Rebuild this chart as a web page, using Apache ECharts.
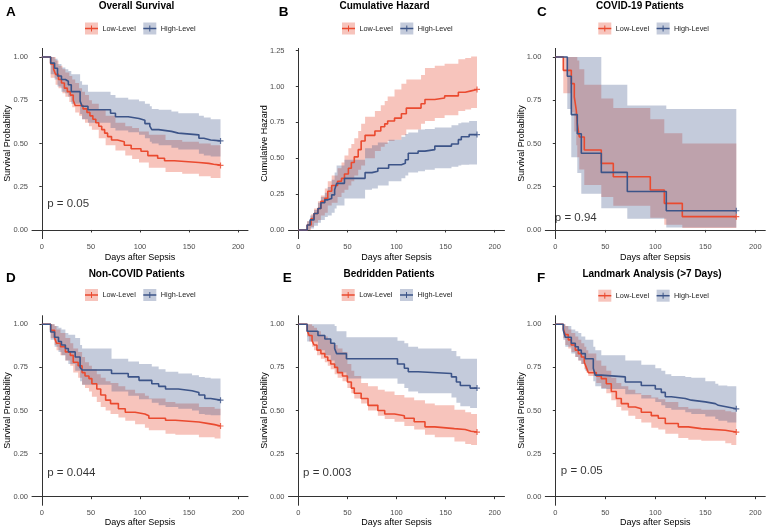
<!DOCTYPE html>
<html>
<head>
<meta charset="utf-8">
<script src="https://cdn.jsdelivr.net/npm/echarts@6/dist/echarts.min.js"></script>
<style>
html, body { margin: 0; background: #fff; }
#chart { width: 767px; height: 530px; }
</style>
</head>
<body>
<div id="chart"></div>
<script>
// step curves: [day, value]   bands: [day, lower, upper]
var redA = [[0,1],[9,0.96],[12,0.93],[14,0.90],[17,0.87],[20,0.85],[23,0.82],[26,0.80],[29,0.78],[32,0.75],[34,0.72],[42,0.70],[46,0.68],[49,0.66],[52,0.64],[55,0.62],[58,0.60],[61,0.58],[64,0.56],[67,0.54],[71,0.52],[77,0.51],[84,0.49],[91,0.47],[101,0.455],[108,0.43],[118,0.415],[125,0.40],[135,0.39],[160,0.385],[170,0.38],[175,0.375],[182,0.373]];
var blueA = [[0,1],[9,0.965],[13,0.935],[16,0.89],[20,0.87],[24,0.86],[27,0.84],[30,0.80],[39,0.745],[41,0.715],[47,0.695],[70,0.675],[75,0.655],[88,0.645],[99,0.635],[105,0.615],[110,0.60],[112,0.58],[119,0.57],[132,0.56],[139,0.55],[160,0.53],[165,0.52],[172,0.515],[182,0.515]];
var bandRedA = [[0,1,1],[9,0.88,1],[14,0.84,0.98],[17,0.82,0.95],[21,0.79,0.93],[24,0.77,0.91],[28,0.74,0.89],[31,0.71,0.87],[34,0.68,0.85],[38,0.66,0.82],[41,0.64,0.80],[44,0.62,0.78],[48,0.60,0.75],[51,0.58,0.73],[58,0.53,0.70],[65,0.49,0.66],[75,0.46,0.62],[85,0.43,0.60],[92,0.41,0.59],[99,0.39,0.57],[109,0.36,0.55],[126,0.335,0.52],[143,0.325,0.51],[160,0.31,0.50],[172,0.30,0.49],[182,0.30,0.49]];
var bandBlueA = [[0,1,1],[9,0.90,1],[13,0.87,0.99],[16,0.83,0.96],[20,0.80,0.94],[24,0.79,0.93],[27,0.77,0.92],[30,0.73,0.90],[39,0.67,0.86],[41,0.64,0.84],[47,0.62,0.80],[70,0.59,0.78],[75,0.575,0.765],[88,0.565,0.755],[99,0.55,0.745],[105,0.53,0.73],[110,0.51,0.715],[112,0.50,0.70],[119,0.49,0.695],[132,0.475,0.685],[139,0.465,0.675],[160,0.44,0.66],[165,0.43,0.65],[172,0.425,0.64],[182,0.425,0.64]];

var redB = [[0,0],[9,0.035],[13,0.08],[16,0.115],[20,0.15],[23,0.20],[27,0.22],[30,0.27],[34,0.31],[40,0.34],[44,0.36],[47,0.39],[51,0.43],[54,0.47],[57,0.51],[61,0.56],[64,0.62],[68,0.66],[78,0.69],[84,0.72],[88,0.74],[91,0.76],[98,0.78],[105,0.81],[110,0.85],[125,0.88],[129,0.91],[139,0.92],[149,0.935],[163,0.96],[170,0.97],[176,0.98],[182,0.98]];
var blueB = [[0,0],[9,0.035],[12,0.07],[16,0.115],[20,0.15],[23,0.19],[27,0.21],[30,0.22],[34,0.245],[37,0.28],[39,0.325],[47,0.36],[68,0.40],[75,0.41],[81,0.43],[92,0.455],[105,0.465],[109,0.49],[112,0.535],[122,0.55],[129,0.56],[139,0.585],[156,0.60],[163,0.63],[166,0.65],[174,0.665],[182,0.665]];
var bandRedB = [[0,0,0],[9,0,0.06],[13,0.02,0.11],[16,0.05,0.15],[20,0.07,0.20],[23,0.10,0.24],[27,0.12,0.29],[30,0.17,0.34],[34,0.19,0.38],[40,0.23,0.43],[44,0.26,0.47],[47,0.28,0.52],[51,0.31,0.57],[54,0.34,0.60],[57,0.38,0.64],[61,0.42,0.69],[64,0.45,0.74],[68,0.50,0.79],[78,0.55,0.83],[84,0.58,0.87],[88,0.60,0.90],[91,0.62,0.93],[98,0.63,0.98],[105,0.66,1.02],[110,0.70,1.05],[125,0.74,1.08],[129,0.76,1.13],[139,0.78,1.145],[149,0.80,1.16],[163,0.83,1.19],[170,0.84,1.20],[176,0.85,1.21],[182,0.85,1.21]];
var bandBlueB = [[0,0,0],[9,0,0.06],[12,0.01,0.10],[16,0.03,0.14],[20,0.05,0.19],[23,0.07,0.23],[27,0.09,0.26],[30,0.10,0.30],[34,0.12,0.35],[37,0.15,0.40],[39,0.17,0.45],[47,0.22,0.49],[68,0.28,0.57],[75,0.29,0.59],[81,0.31,0.61],[92,0.34,0.63],[105,0.36,0.65],[109,0.38,0.67],[112,0.40,0.68],[122,0.41,0.70],[129,0.42,0.705],[139,0.43,0.715],[156,0.44,0.73],[163,0.45,0.745],[166,0.455,0.75],[174,0.456,0.76],[182,0.456,0.76]];

var redC = [[0,1],[8,0.923],[16,0.846],[19,0.769],[21,0.692],[22,0.615],[24,0.538],[29,0.462],[46,0.385],[58,0.308],[95,0.231],[109,0.154],[127,0.077],[181,0.077]];
var blueC = [[0,1],[12,0.889],[16,0.667],[22,0.556],[26,0.444],[46,0.333],[72,0.222],[111,0.111],[181,0.111]];
var bandRedC = [[0,1,1],[8,0.79,1],[16,0.68,1],[19,0.57,1],[21,0.49,1],[22,0.42,0.98],[24,0.35,0.93],[29,0.26,0.84],[46,0.19,0.76],[58,0.14,0.705],[95,0.07,0.64],[109,0.03,0.56],[127,0.012,0.50],[181,0.012,0.50]];
var bandBlueC = [[0,1,1],[12,0.70,1],[16,0.42,1],[22,0.33,1],[26,0.21,1],[46,0.125,0.84],[72,0.065,0.72],[111,0.014,0.70],[181,0.014,0.70]];

var redD = [[0,1],[9,0.965],[13,0.92],[15,0.89],[19,0.87],[24,0.84],[29,0.82],[32,0.78],[37,0.76],[41,0.72],[44,0.70],[48,0.685],[51,0.655],[56,0.625],[60,0.59],[65,0.56],[70,0.54],[78,0.51],[85,0.49],[95,0.48],[105,0.47],[109,0.455],[126,0.443],[136,0.433],[160,0.424],[170,0.418],[176,0.41],[182,0.41]];
var blueD = [[0,1],[9,0.955],[13,0.925],[17,0.90],[20,0.88],[24,0.86],[27,0.84],[34,0.81],[39,0.75],[41,0.735],[71,0.715],[88,0.695],[99,0.675],[112,0.655],[119,0.64],[126,0.625],[139,0.615],[153,0.605],[160,0.59],[166,0.57],[172,0.56],[182,0.56]];
var bandRedD = [[0,1,1],[9,0.92,1],[13,0.88,0.99],[15,0.85,0.97],[19,0.82,0.95],[24,0.79,0.92],[29,0.76,0.89],[32,0.72,0.86],[37,0.69,0.84],[41,0.65,0.81],[44,0.63,0.78],[48,0.61,0.76],[51,0.58,0.74],[56,0.55,0.71],[60,0.52,0.69],[65,0.50,0.67],[70,0.48,0.66],[78,0.46,0.64],[85,0.44,0.62],[95,0.42,0.60],[105,0.40,0.585],[109,0.385,0.57],[126,0.365,0.55],[136,0.36,0.54],[160,0.345,0.52],[176,0.337,0.51],[182,0.337,0.51]];
var bandBlueD = [[0,1,1],[9,0.91,1],[13,0.87,0.99],[17,0.84,0.98],[20,0.82,0.97],[24,0.79,0.95],[27,0.77,0.94],[34,0.73,0.92],[39,0.67,0.88],[41,0.65,0.86],[71,0.61,0.80],[88,0.585,0.785],[99,0.565,0.77],[112,0.545,0.755],[119,0.53,0.74],[126,0.52,0.725],[139,0.51,0.715],[153,0.50,0.705],[160,0.48,0.695],[166,0.475,0.69],[172,0.472,0.685],[182,0.472,0.685]];

var redE = [[0,1],[9,0.965],[11,0.935],[14,0.905],[16,0.88],[19,0.85],[23,0.83],[27,0.81],[30,0.79],[33,0.77],[37,0.75],[40,0.72],[45,0.70],[50,0.665],[54,0.63],[57,0.60],[64,0.57],[71,0.53],[81,0.50],[88,0.48],[98,0.47],[108,0.455],[118,0.435],[129,0.405],[139,0.395],[159,0.39],[170,0.38],[176,0.375],[182,0.375]];
var blueE = [[0,1],[9,0.96],[20,0.935],[27,0.915],[33,0.89],[37,0.86],[39,0.83],[49,0.80],[101,0.77],[108,0.745],[112,0.725],[122,0.715],[156,0.695],[161,0.665],[165,0.645],[175,0.63],[182,0.63]];
var bandRedE = [[0,1,1],[9,0.93,1],[11,0.90,1],[14,0.87,0.99],[16,0.85,0.98],[19,0.82,0.96],[23,0.80,0.94],[27,0.78,0.93],[30,0.76,0.91],[33,0.74,0.89],[37,0.71,0.88],[40,0.69,0.86],[45,0.67,0.84],[50,0.63,0.77],[54,0.60,0.73],[57,0.57,0.70],[64,0.54,0.66],[71,0.50,0.64],[81,0.47,0.62],[88,0.45,0.61],[98,0.435,0.59],[108,0.41,0.575],[118,0.39,0.56],[129,0.36,0.54],[139,0.345,0.53],[159,0.32,0.505],[170,0.305,0.49],[176,0.30,0.48],[182,0.30,0.48]];
var bandBlueE = [[0,1,1],[9,0.90,1],[20,0.85,1],[27,0.82,1],[33,0.79,1],[37,0.75,0.99],[39,0.72,0.96],[49,0.685,0.925],[101,0.655,0.905],[108,0.63,0.89],[112,0.61,0.87],[122,0.60,0.86],[156,0.575,0.845],[161,0.545,0.815],[165,0.525,0.80],[175,0.515,0.80],[182,0.515,0.80]];

var redF = [[0,1],[8,0.975],[10,0.94],[13,0.91],[16,0.88],[20,0.85],[23,0.83],[26,0.81],[29,0.78],[31,0.75],[33,0.72],[41,0.70],[46,0.685],[51,0.655],[56,0.61],[61,0.57],[66,0.54],[73,0.52],[80,0.51],[86,0.49],[96,0.47],[103,0.455],[110,0.425],[123,0.405],[133,0.395],[146,0.385],[170,0.38],[176,0.375],[181,0.375]];
var blueF = [[0,1],[8,0.965],[10,0.925],[16,0.89],[20,0.87],[23,0.85],[26,0.83],[30,0.80],[38,0.745],[40,0.705],[46,0.695],[70,0.665],[86,0.645],[100,0.625],[106,0.605],[110,0.58],[116,0.57],[130,0.56],[136,0.55],[150,0.54],[160,0.53],[163,0.52],[172,0.51],[181,0.51]];
var bandRedF = [[0,1,1],[8,0.92,1],[10,0.88,0.99],[13,0.86,0.97],[16,0.84,0.95],[20,0.81,0.93],[23,0.79,0.91],[26,0.77,0.89],[29,0.74,0.87],[31,0.72,0.85],[33,0.70,0.83],[41,0.66,0.79],[46,0.63,0.76],[51,0.60,0.73],[56,0.56,0.69],[61,0.52,0.66],[66,0.50,0.64],[73,0.47,0.62],[80,0.45,0.60],[86,0.43,0.59],[96,0.40,0.575],[103,0.39,0.565],[110,0.365,0.55],[123,0.34,0.52],[133,0.33,0.51],[146,0.325,0.505],[170,0.31,0.495],[176,0.30,0.49],[181,0.30,0.49]];
var bandBlueF = [[0,1,1],[8,0.91,1],[10,0.87,0.99],[16,0.83,0.97],[20,0.81,0.96],[23,0.79,0.95],[26,0.77,0.93],[30,0.73,0.91],[38,0.67,0.87],[40,0.64,0.85],[46,0.625,0.82],[70,0.595,0.79],[86,0.57,0.765],[100,0.55,0.745],[106,0.53,0.73],[110,0.515,0.71],[116,0.505,0.70],[130,0.49,0.695],[136,0.48,0.69],[150,0.465,0.67],[160,0.45,0.655],[163,0.44,0.645],[172,0.43,0.64],[181,0.425,0.636]];

var xTicks = [0, 50, 100, 150, 200];
var survTicks = [0, 0.25, 0.5, 0.75, 1];
var hazTicks = [0, 0.25, 0.5, 0.75, 1, 1.25];
var groups = ['Low-Level', 'High-Level'];

var RED = '#EA4A2F', BLUE = '#3C5488';
var RED_FILL = 'rgba(230,75,53,0.33)', BLUE_FILL = 'rgba(60,84,136,0.3)';
var FONT = '"Liberation Sans", Arial, sans-serif';

var panels = [
  {letter:'A', title:'Overall Survival', yName:'Survival Probability', red:redA, blue:blueA, rb:bandRedA, bb:bandBlueA, p:'p = 0.05', pAt:[5,0.15], yt:survTicks, ymin:-0.05, ymax:1.05,
   box:[32,48.4,216,190.2], tx:136.5, ty:6.5, lx:6, ly:12, gx:85, gy:28.5, nameGap:14},
  {letter:'B', title:'Cumulative Hazard', yName:'Cumulative Hazard', red:redB, blue:blueB, rb:bandRedB, bb:bandBlueB, p:null, yt:hazTicks, ymin:-0.0603, ymax:1.2663,
   box:[288.5,48.4,216,190.2], tx:384.5, ty:6.5, lx:278.7, ly:12, gx:342, gy:28.5, nameGap:14},
  {letter:'C', title:'COVID-19 Patients', yName:'Survival Probability', red:redC, blue:blueC, rb:bandRedC, bb:bandBlueC, p:'p = 0.94', pAt:[-1,0.068], yt:survTicks, ymin:-0.05, ymax:1.05,
   box:[545.3,48.4,220,190.2], tx:640, ty:6.5, lx:537, ly:12, gx:598.3, gy:28.5, nameGap:14},
  {letter:'D', title:'Non-COVID Patients', yName:'Survival Probability', red:redD, blue:blueD, rb:bandRedD, bb:bandBlueD, p:'p = 0.044', pAt:[5,0.14], yt:survTicks, ymin:-0.05, ymax:1.05,
   box:[32,315.7,216,189.6], tx:136.7, ty:274, lx:6, ly:278.5, gx:85, gy:295, nameGap:13},
  {letter:'E', title:'Bedridden Patients', yName:'Survival Probability', red:redE, blue:blueE, rb:bandRedE, bb:bandBlueE, p:'p = 0.003', pAt:[4.3,0.14], yt:survTicks, ymin:-0.05, ymax:1.05,
   box:[288.5,315.7,216,189.6], tx:389, ty:274, lx:282.7, ly:278.5, gx:341.7, gy:295, nameGap:13},
  {letter:'F', title:'Landmark Analysis (>7 Days)', yName:'Survival Probability', red:redF, blue:blueF, rb:bandRedF, bb:bandBlueF, p:'p = 0.05', pAt:[5,0.149], yt:survTicks, ymin:-0.05, ymax:1.05,
   box:[545.3,315.7,220,189.6], tx:652, ty:274, lx:537, ly:278.5, gx:598.3, gy:295.7, nameGap:13}
];

function bandSeries(i, band, color) {
  return {
    type: 'custom', xAxisIndex: i, yAxisIndex: i, silent: true, z: 1,
    data: band,
    encode: { x: 0, y: [1, 2] },
    renderItem: function (params, api) {
      if (params.dataIndex !== 0) return null;
      var up = [], lo = [];
      for (var k = 0; k < band.length; k++) {
        var t = band[k][0];
        var tn = k + 1 < band.length ? band[k + 1][0] : t;
        up.push(api.coord([t, band[k][2]]), api.coord([tn, band[k][2]]));
        lo.push(api.coord([t, band[k][1]]), api.coord([tn, band[k][1]]));
      }
      return { type: 'polygon', shape: { points: up.concat(lo.reverse()) }, style: { fill: color } };
    }
  };
}

var plusPath = 'path://M4,0H6V4H10V6H6V10H4V6H0V4H4Z';

function curveSeries(i, curve, color, name) {
  return [{
    type: 'line', name: name, xAxisIndex: i, yAxisIndex: i, step: 'end', z: 3,
    data: curve, showSymbol: false, silent: true,
    lineStyle: { color: color, width: 1.6 }
  }, {
    type: 'scatter', xAxisIndex: i, yAxisIndex: i, z: 4, silent: true,
    data: [curve[curve.length - 1]], symbol: plusPath, symbolSize: 6,
    itemStyle: { color: color }
  }];
}

var grids = [], xAxes = [], yAxes = [], series = [], graphics = [];

panels.forEach(function (p, i) {
  grids.push({ left: p.box[0], top: p.box[1], width: p.box[2], height: p.box[3], containLabel: false, outerBoundsMode: 'none' });
  xAxes.push({
    type: 'value', gridIndex: i, min: -10, max: 210,
    name: 'Days after Sepsis', nameLocation: 'middle', nameGap: p.nameGap, nameMoveOverlap: false,
    nameTextStyle: { fontFamily: FONT, fontSize: 9, color: '#000' },
    axisLine: { lineStyle: { color: '#333', width: 1 } },
    axisTick: { customValues: xTicks, length: 2.5, lineStyle: { color: '#333' } },
    axisLabel: { customValues: xTicks, margin: 4, fontFamily: FONT, fontSize: 7.5, color: '#4D4D4D' },
    splitLine: { show: false }
  });
  yAxes.push({
    type: 'value', gridIndex: i, min: p.ymin, max: p.ymax,
    name: p.yName, nameLocation: 'middle', nameGap: 19.5, nameMoveOverlap: false,
    nameTextStyle: { fontFamily: FONT, fontSize: 9, color: '#000' },
    axisLine: { show: true, lineStyle: { color: '#333', width: 1 } },
    axisTick: { show: true, customValues: p.yt, length: 2.5, lineStyle: { color: '#333' } },
    axisLabel: { customValues: p.yt, margin: 4, fontFamily: FONT, fontSize: 7.5, color: '#4D4D4D',
      formatter: function (v) { return v.toFixed(2); } },
    splitLine: { show: false }
  });
  series.push(bandSeries(i, p.rb, RED_FILL));
  series.push(bandSeries(i, p.bb, BLUE_FILL));
  series = series.concat(curveSeries(i, p.red, RED, groups[0]));
  series = series.concat(curveSeries(i, p.blue, BLUE, groups[1]));
  if (p.p) {
    series.push({
      type: 'scatter', xAxisIndex: i, yAxisIndex: i, z: 5, silent: true,
      data: [p.pAt], symbolSize: 1, itemStyle: { color: 'rgba(0,0,0,0)' },
      label: { show: true, position: 'right', distance: 0, formatter: p.p,
        fontFamily: FONT, fontSize: 11.5, color: '#000' }
    });
  }

  graphics.push({ type: 'text', x: p.tx, y: p.ty, style: { text: p.title, fontFamily: FONT, fontSize: 10, fontWeight: 'bold', fill: '#000', align: 'center', verticalAlign: 'middle' } });
  graphics.push({ type: 'text', x: p.lx, y: p.ly, style: { text: p.letter, fontFamily: FONT, fontSize: 13.5, fontWeight: 'bold', fill: '#000', align: 'left', verticalAlign: 'middle' } });
  [[RED, RED_FILL, 0], [BLUE, BLUE_FILL, 1]].forEach(function (g) {
    var x0 = p.gx + g[2] * 58.3;
    graphics.push({ type: 'rect', shape: { x: x0, y: p.gy - 6, width: 13, height: 12 }, style: { fill: g[1] } });
    graphics.push({ type: 'line', shape: { x1: x0, y1: p.gy, x2: x0 + 13, y2: p.gy }, style: { stroke: g[0], lineWidth: 1.5 } });
    graphics.push({ type: 'line', shape: { x1: x0 + 6.5, y1: p.gy - 3, x2: x0 + 6.5, y2: p.gy + 3 }, style: { stroke: g[0], lineWidth: 1 } });
    graphics.push({ type: 'text', x: x0 + 17.5, y: p.gy, style: { text: groups[g[2]], fontFamily: FONT, fontSize: 7.3, fill: '#222', align: 'left', verticalAlign: 'middle' } });
  });
});

var chart = echarts.init(document.getElementById('chart'));
chart.setOption({
  animation: false,
  backgroundColor: '#fff',
  grid: grids,
  xAxis: xAxes,
  yAxis: yAxes,
  series: series,
  graphic: graphics
});
</script>
</body>
</html>
